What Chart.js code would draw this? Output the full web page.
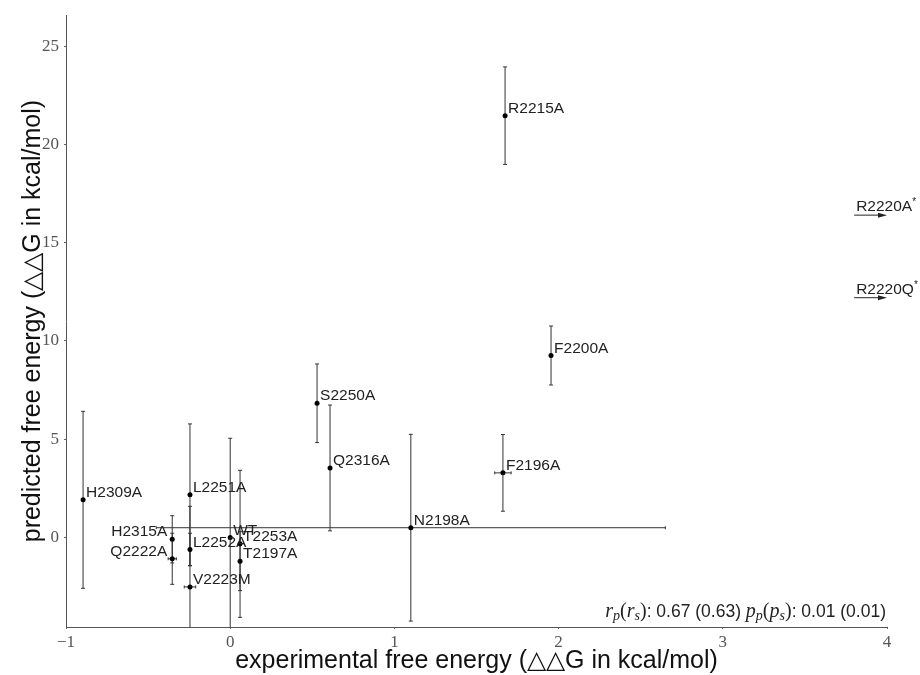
<!DOCTYPE html>
<html>
<head>
<meta charset="utf-8">
<script src="https://cdn.jsdelivr.net/npm/chart.js@4/dist/chart.umd.min.js"></script>
<style>
  html, body { margin: 0; padding: 0; background: #fff; }
  #wrap { width: 920px; height: 675px; }
</style>
</head>
<body>
<div id="wrap"><canvas id="c" width="920" height="675"></canvas></div>
<script>
// ---- data ----
const mutants   = ['R2215A','F2200A','S2250A','Q2316A','F2196A','N2198A','H2309A','L2251A','H2315A','Q2222A','L2252A','V2223M','WT','T2253A','T2197A'];
const expDDG    = [1.674, 1.954, 0.529, 0.608, 1.661, 1.10, -0.896, -0.245, -0.353, -0.353, -0.245, -0.245, 0.0, 0.06, 0.06];
const predDDG   = [21.46, 9.26, 6.83, 3.54, 3.29, 0.50, 1.92, 2.18, -0.09, -1.08, -0.61, -2.51, 0.0, -0.32, -1.20];
const expErr    = [0, 0, 0, 0, 0.05, 1.55, 0, 0, 0, 0.025, 0, 0.035, 0, 0, 0];
const predErr   = [2.48, 1.50, 2.00, 3.20, 1.95, 4.75, 4.50, 3.60, 1.20, 1.30, 0.83, 4.10, 5.05, 3.74, 1.50];
const leftLabelled = ['H2315A','Q2222A'];
const offscaleNames = ['R2220A','R2220Q'];
const offscalePred  = [16.4, 12.2];
const xTicks = [-1, 0, 1, 2, 3, 4];
const yTicks = [0, 5, 10, 15, 20, 25];
const stats = { rp: '0.67', rs: '0.63', pp: '0.01', ps: '0.01' };

const SANS = '"Liberation Sans", Arial, sans-serif';
const SERIF = '"Liberation Serif", "Times New Roman", serif';
const INK = '#222';

const points = mutants.map((m, i) => ({ x: expDDG[i], y: predDDG[i] }));

const errorBars = {
  id: 'errorBars',
  beforeDatasetsDraw(chart) {
    const { ctx, chartArea: a, scales: { x, y } } = chart;
    ctx.save();
    ctx.beginPath();
    ctx.rect(a.left, a.top, a.right - a.left, a.bottom - a.top);
    ctx.clip();
    ctx.strokeStyle = '#333';
    ctx.lineWidth = 1;
    const cap = 2;
    for (let i = 0; i < mutants.length; i++) {
      const px = x.getPixelForValue(expDDG[i]);
      const py = y.getPixelForValue(predDDG[i]);
      if (predErr[i] > 0) {
        const t = y.getPixelForValue(predDDG[i] + predErr[i]);
        const b = y.getPixelForValue(predDDG[i] - predErr[i]);
        ctx.beginPath();
        ctx.moveTo(px, t); ctx.lineTo(px, b);
        ctx.moveTo(px - cap, t); ctx.lineTo(px + cap, t);
        ctx.moveTo(px - cap, b); ctx.lineTo(px + cap, b);
        ctx.stroke();
      }
      if (expErr[i] > 0) {
        const l = x.getPixelForValue(expDDG[i] - expErr[i]);
        const r = x.getPixelForValue(expDDG[i] + expErr[i]);
        ctx.beginPath();
        ctx.moveTo(l, py); ctx.lineTo(r, py);
        ctx.moveTo(l, py - 1.5); ctx.lineTo(l, py + 1.5);
        ctx.moveTo(r, py - 1.5); ctx.lineTo(r, py + 1.5);
        ctx.stroke();
      }
    }
    ctx.restore();
  },
  afterDatasetsDraw(chart) {
    const { ctx, chartArea: a, scales: { x, y } } = chart;
    ctx.save();
    ctx.fillStyle = INK;
    ctx.font = '15.5px ' + SANS;
    ctx.textBaseline = 'alphabetic';
    for (let i = 0; i < mutants.length; i++) {
      const px = x.getPixelForValue(expDDG[i]);
      const py = y.getPixelForValue(predDDG[i]);
      if (leftLabelled.includes(mutants[i])) {
        ctx.textAlign = 'right';
        ctx.fillText(mutants[i], px - 5, py - 3);
      } else {
        ctx.textAlign = 'left';
        ctx.fillText(mutants[i], px + 3, py - 3);
      }
    }
    // off-scale arrows
    const x0 = x.getPixelForValue(x.max - 0.2);
    const x1 = x.getPixelForValue(x.max);
    for (let i = 0; i < offscaleNames.length; i++) {
      const py = y.getPixelForValue(offscalePred[i]);
      ctx.strokeStyle = INK;
      ctx.lineWidth = 1;
      ctx.beginPath();
      ctx.moveTo(x0, py); ctx.lineTo(x1 - 7, py);
      ctx.stroke();
      ctx.beginPath();
      ctx.moveTo(x1, py); ctx.lineTo(x1 - 9, py - 2.5); ctx.lineTo(x1 - 9, py + 2.5);
      ctx.closePath(); ctx.fill();
      ctx.textAlign = 'left';
      ctx.font = '15.5px ' + SANS;
      ctx.fillText(offscaleNames[i], x0 + 2, py - 4);
      const w = ctx.measureText(offscaleNames[i]).width;
      ctx.font = '10px ' + SANS;
      ctx.fillText('*', x0 + 2 + w, py - 10);
    }
    // statistics text
    const segs = [
      ['r', 'italic 20px ' + SERIF, 0], ['p', 'italic 14px ' + SERIF, 3],
      ['(', '20px ' + SERIF, 0], ['r', 'italic 20px ' + SERIF, 0], ['s', 'italic 14px ' + SERIF, 3],
      [')', '20px ' + SERIF, 0],
      [': ' + stats.rp + ' (' + stats.rs + ') ', '17.5px ' + SANS, 0],
      ['p', 'italic 20px ' + SERIF, 0], ['p', 'italic 14px ' + SERIF, 3],
      ['(', '20px ' + SERIF, 0], ['p', 'italic 20px ' + SERIF, 0], ['s', 'italic 14px ' + SERIF, 3],
      [')', '20px ' + SERIF, 0],
      [': ' + stats.pp + ' (' + stats.ps + ')', '17.5px ' + SANS, 0]
    ];
    let total = 0;
    for (const s of segs) { ctx.font = s[1]; total += ctx.measureText(s[0]).width; }
    let cx = a.right - 1 - total;
    const base = a.bottom - 10;
    ctx.textAlign = 'left';
    for (const s of segs) {
      ctx.font = s[1];
      ctx.fillText(s[0], cx, base + s[2]);
      cx += ctx.measureText(s[0]).width;
    }
    ctx.restore();
  }
};

const fmt = v => (v < 0 ? '\u2212' + Math.abs(v) : String(v));

new Chart(document.getElementById('c'), {
  type: 'scatter',
  data: {
    datasets: [{
      data: points,
      pointRadius: 2.5,
      pointHoverRadius: 2.5,
      backgroundColor: '#000',
      borderWidth: 0
    }]
  },
  options: {
    responsive: false,
    animation: false,
    layout: { padding: { top: 12, right: 33, left: 0, bottom: 0 } },
    plugins: { legend: { display: false }, tooltip: { enabled: false } },
    scales: {
      x: {
        type: 'linear', min: -1, max: 4,
        afterFit: s => { s.height = 48; },
        afterBuildTicks: s => { s.ticks = xTicks.map(v => ({ value: v })); },
        ticks: { callback: fmt, font: { family: SERIF, size: 17 }, color: '#555', padding: 3, maxRotation: 0 },
        grid: { display: true, drawOnChartArea: false, drawTicks: true, tickLength: 2, color: '#666' },
        border: { display: true, color: '#555', width: 1 },
        title: { display: true, text: 'experimental free energy (\u25B3\u25B3G in kcal/mol)', font: { family: SANS, size: 25, lineHeight: 1 }, color: '#111', padding: { top: 0, bottom: 1 } }
      },
      y: {
        type: 'linear', min: -4.55, max: 26.57,
        afterFit: s => { s.width = 66; },
        afterBuildTicks: s => { s.ticks = yTicks.map(v => ({ value: v })); },
        ticks: { callback: fmt, font: { family: SERIF, size: 17 }, color: '#555', padding: 5 },
        grid: { display: true, drawOnChartArea: false, drawTicks: true, tickLength: 2, color: '#666' },
        border: { display: true, color: '#555', width: 1 },
        title: { display: true, text: 'predicted free energy (\u25B3\u25B3G in kcal/mol)', font: { family: SANS, size: 25, lineHeight: 1 }, color: '#111', padding: { top: 21, bottom: 0 } }
      }
    }
  },
  plugins: [errorBars]
});
</script>
</body>
</html>
